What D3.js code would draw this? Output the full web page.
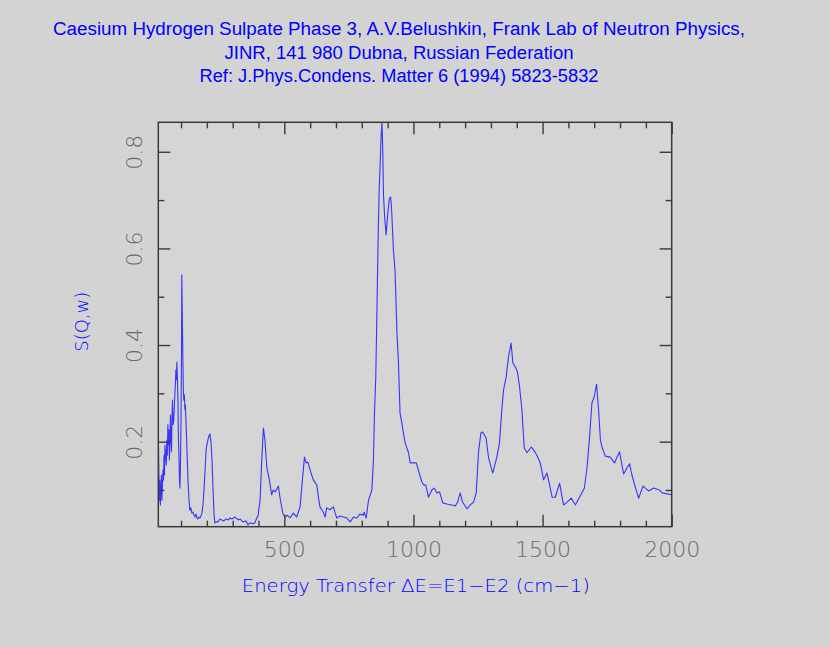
<!DOCTYPE html>
<html>
<head>
<meta charset="utf-8">
<script src="https://cdn.jsdelivr.net/npm/d3@7"></script>
<style>
  html, body { margin: 0; padding: 0; background: #d3d3d3; }
  svg { display: block; }
</style>
</head>
<body>
<svg id="chart" width="830" height="647"></svg>
<script>
// ---- data ----
const titleLines = [
  "Caesium Hydrogen Sulpate Phase 3, A.V.Belushkin, Frank Lab of Neutron Physics,",
  "JINR, 141 980 Dubna, Russian Federation",
  "Ref: J.Phys.Condens. Matter 6 (1994) 5823-5832"
];
const xLabel = "Energy Transfer \u0394E=E1\u2212E2 (cm\u22121)";
const yLabel = "S(Q,w)";
const xDomain = [12, 2000];
const yDomain = [0.024, 0.861];
const xMajorTicks = [500, 1000, 1500, 2000];
const xMinorTicks = [100, 200, 300, 400, 600, 700, 800, 900, 1100, 1200, 1300, 1400, 1600, 1700, 1800, 1900];
const yMajorTicks = [0.2, 0.4, 0.6, 0.8];
const yMinorTicks = [0.1, 0.3, 0.5, 0.7];

const energy = [
  12, 14, 16, 18, 20, 22, 24, 26, 28, 30, 32, 34, 36, 38, 40, 41, 43, 45, 47, 49,
  51, 53, 55, 57, 59, 61, 63, 65, 67, 69, 72, 76, 78, 80, 82, 84, 86, 88, 90, 92,
  94, 96, 98, 100, 102, 103, 105, 107, 109, 111, 113, 115, 117, 119, 123, 127, 131, 134, 138, 142,
  146, 150, 154, 158, 162, 165, 169, 173, 177, 181, 185, 189, 193, 197, 200, 204, 208, 212, 216, 220,
  224, 228, 231, 235, 243, 251, 258, 266, 274, 282, 290, 297, 309, 321, 328, 340, 352, 359, 367, 379,
  386, 393, 398, 406, 412, 419, 425, 432, 442, 451, 457, 464, 471, 477, 483, 494, 503, 512, 522, 535,
  548, 561, 571, 578, 584, 591, 600, 612, 626, 632, 638, 651, 658, 664, 677, 690, 697, 703, 716, 729,
  742, 755, 768, 781, 792, 806, 809, 817, 826, 839, 845, 849, 854, 858, 864, 867, 871, 875, 878, 881,
  884, 888, 894, 901, 907, 912, 916, 922, 929, 936, 942, 948, 955, 961, 968, 981, 987, 1000, 1011, 1019,
  1033, 1041, 1048, 1058, 1071, 1080, 1091, 1101, 1114, 1129, 1149, 1162, 1171, 1181, 1190, 1207, 1220, 1233, 1243, 1252,
  1261, 1268, 1281, 1291, 1307, 1323, 1333, 1343, 1349, 1359, 1368, 1378, 1385, 1394, 1403, 1411, 1420, 1429, 1440, 1456,
  1465, 1478, 1491, 1504, 1517, 1523, 1537, 1549, 1566, 1581, 1595, 1611, 1627, 1643, 1662, 1672, 1682, 1691, 1700, 1709,
  1717, 1724, 1730, 1743, 1762, 1779, 1788, 1798, 1814, 1827, 1837, 1846, 1859, 1872, 1889, 1911, 1930, 1952, 1963, 2000
];
const sqw = [
  0.220, 0.141, 0.079, 0.120, 0.069, 0.100, 0.131, 0.079, 0.110, 0.141, 0.120, 0.172, 0.131, 0.193, 0.162, 0.183, 0.152, 0.203, 0.172, 0.235,
  0.193, 0.224, 0.162, 0.203, 0.255, 0.203, 0.179, 0.245, 0.286, 0.235, 0.245, 0.297, 0.317, 0.348, 0.328, 0.365, 0.332, 0.286, 0.203, 0.172,
  0.120, 0.104, 0.162, 0.245, 0.390, 0.545, 0.462, 0.380, 0.307, 0.286, 0.297, 0.266, 0.276, 0.245, 0.183, 0.120, 0.079, 0.058, 0.063, 0.052,
  0.054, 0.048, 0.044, 0.050, 0.042, 0.040, 0.044, 0.042, 0.046, 0.052, 0.069, 0.100, 0.141, 0.183, 0.193, 0.203, 0.212, 0.216, 0.199, 0.162,
  0.100, 0.048, 0.032, 0.034, 0.034, 0.040, 0.038, 0.036, 0.040, 0.038, 0.042, 0.040, 0.044, 0.038, 0.040, 0.034, 0.036, 0.028, 0.032, 0.030,
  0.032, 0.042, 0.046, 0.079, 0.156, 0.228, 0.203, 0.148, 0.121, 0.090, 0.100, 0.096, 0.102, 0.108, 0.085, 0.052, 0.044, 0.048, 0.042, 0.052,
  0.044, 0.065, 0.127, 0.168, 0.156, 0.158, 0.141, 0.121, 0.110, 0.085, 0.065, 0.054, 0.044, 0.063, 0.059, 0.065, 0.052, 0.042, 0.046, 0.044,
  0.042, 0.034, 0.044, 0.042, 0.050, 0.048, 0.054, 0.042, 0.079, 0.100, 0.162, 0.259, 0.332, 0.452, 0.642, 0.717, 0.773, 0.835, 0.862, 0.808,
  0.711, 0.669, 0.628, 0.675, 0.704, 0.706, 0.675, 0.601, 0.551, 0.427, 0.363, 0.259, 0.239, 0.218, 0.197, 0.177, 0.156, 0.156, 0.156, 0.141,
  0.116, 0.110, 0.110, 0.085, 0.100, 0.104, 0.094, 0.096, 0.073, 0.071, 0.069, 0.067, 0.075, 0.094, 0.075, 0.061, 0.069, 0.075, 0.094, 0.179,
  0.218, 0.220, 0.208, 0.166, 0.135, 0.168, 0.197, 0.272, 0.307, 0.334, 0.375, 0.404, 0.363, 0.355, 0.344, 0.313, 0.266, 0.187, 0.177, 0.189,
  0.183, 0.172, 0.156, 0.121, 0.135, 0.121, 0.085, 0.085, 0.114, 0.069, 0.075, 0.083, 0.069, 0.085, 0.104, 0.146, 0.210, 0.280, 0.293, 0.319,
  0.266, 0.203, 0.189, 0.170, 0.168, 0.156, 0.168, 0.179, 0.133, 0.146, 0.154, 0.131, 0.106, 0.083, 0.108, 0.098, 0.104, 0.100, 0.094, 0.090
];

// ---- layout ----
const W = 830, H = 647;
const plot = { left: 158.3, right: 671.7, top: 122.3, bottom: 526.7 };
const blue = "#0000ff";
const frameColor = "#3a3a3a";
const tickLabelColor = "#6a6a6a";

const svg = d3.select("#chart");
svg.append("rect").attr("width", W).attr("height", H).attr("fill", "#d3d3d3");

const x = d3.scaleLinear().domain(xDomain).range([plot.left, plot.right]);
const y = d3.scaleLinear().domain(yDomain).range([plot.bottom, plot.top]);

// plot area background
svg.append("rect")
  .attr("x", plot.left).attr("y", plot.top)
  .attr("width", plot.right - plot.left).attr("height", plot.bottom - plot.top)
  .attr("fill", "#d5d5d5");

// clip
svg.append("clipPath").attr("id", "clip")
  .append("rect")
  .attr("x", plot.left).attr("y", plot.top)
  .attr("width", plot.right - plot.left).attr("height", plot.bottom - plot.top);

// data line
const pts = energy.map((e, i) => [e, sqw[i]]);
const line = d3.line().x(d => x(d[0])).y(d => y(d[1]));
svg.append("path")
  .datum(pts)
  .attr("clip-path", "url(#clip)")
  .attr("fill", "none")
  .attr("stroke", "#3535ff")
  .attr("stroke-width", 1.1)
  .attr("stroke-linejoin", "round")
  .attr("d", line);

// ---- axes / ticks ----
function styleAxis(g) {
  g.select(".domain").remove();
  g.selectAll(".tick line").attr("stroke", frameColor).attr("stroke-width", 1.4);
}
const tickFont = "'DejaVu Sans', sans-serif";

// bottom
const gB = svg.append("g").attr("transform", `translate(0,${plot.bottom})`)
  .call(d3.axisBottom(x).tickValues(xMajorTicks).tickSize(-12).tickPadding(15).tickFormat(d3.format("d")));
styleAxis(gB);
gB.selectAll(".tick text")
  .attr("fill", tickLabelColor)
  .style("font-family", tickFont).style("font-size", "22px").style("font-weight", "200");
const gBm = svg.append("g").attr("transform", `translate(0,${plot.bottom})`)
  .call(d3.axisBottom(x).tickValues(xMinorTicks).tickSize(-6).tickFormat(""));
styleAxis(gBm);

// top
const gT = svg.append("g").attr("transform", `translate(0,${plot.top})`)
  .call(d3.axisTop(x).tickValues(xMajorTicks).tickSize(-12).tickFormat(""));
styleAxis(gT);
const gTm = svg.append("g").attr("transform", `translate(0,${plot.top})`)
  .call(d3.axisTop(x).tickValues(xMinorTicks).tickSize(-6).tickFormat(""));
styleAxis(gTm);

// left
const gL = svg.append("g").attr("transform", `translate(${plot.left},0)`)
  .call(d3.axisLeft(y).tickValues(yMajorTicks).tickSize(-12).tickFormat(d3.format(".1f")));
styleAxis(gL);
gL.selectAll(".tick text")
  .attr("x", null).attr("dy", null)
  .attr("transform", "translate(-16.5,0) rotate(-90)")
  .attr("text-anchor", "middle")
  .attr("fill", tickLabelColor)
  .style("font-family", tickFont).style("font-size", "22px").style("font-weight", "200");
const gLm = svg.append("g").attr("transform", `translate(${plot.left},0)`)
  .call(d3.axisLeft(y).tickValues(yMinorTicks).tickSize(-6).tickFormat(""));
styleAxis(gLm);

// right
const gR = svg.append("g").attr("transform", `translate(${plot.right},0)`)
  .call(d3.axisRight(y).tickValues(yMajorTicks).tickSize(-12).tickFormat(""));
styleAxis(gR);
const gRm = svg.append("g").attr("transform", `translate(${plot.right},0)`)
  .call(d3.axisRight(y).tickValues(yMinorTicks).tickSize(-6).tickFormat(""));
styleAxis(gRm);

// frame
svg.append("rect")
  .attr("x", plot.left).attr("y", plot.top)
  .attr("width", plot.right - plot.left).attr("height", plot.bottom - plot.top)
  .attr("fill", "none").attr("stroke", frameColor).attr("stroke-width", 1.5);

// ---- titles ----
const titleBaselines = [35, 58.5, 82.3];
const titleLengths = [692, 349, 399];
titleLines.forEach((t, i) => {
  svg.append("text")
    .attr("x", 399).attr("y", titleBaselines[i])
    .attr("text-anchor", "middle")
    .attr("textLength", titleLengths[i])
    .attr("lengthAdjust", "spacingAndGlyphs")
    .attr("fill", blue)
    .style("font-family", "'Liberation Sans', Arial, sans-serif")
    .style("font-size", "18px")
    .text(t);
});

// x axis label
svg.append("text")
  .attr("x", 415.8).attr("y", 591.5)
  .attr("text-anchor", "middle")
  .attr("textLength", 348)
  .attr("lengthAdjust", "spacingAndGlyphs")
  .attr("fill", blue)
  .style("font-family", "'DejaVu Sans', sans-serif")
  .style("font-size", "18px")
  .style("font-weight", "200")
  .text(xLabel);

// y axis label
svg.append("text")
  .attr("transform", "translate(87.5,321.7) rotate(-90)")
  .attr("text-anchor", "middle")
  .attr("textLength", 60)
  .attr("lengthAdjust", "spacingAndGlyphs")
  .attr("fill", blue)
  .style("font-family", "'DejaVu Sans', sans-serif")
  .style("font-size", "17px")
  .style("font-weight", "200")
  .text(yLabel);
</script>
</body>
</html>
